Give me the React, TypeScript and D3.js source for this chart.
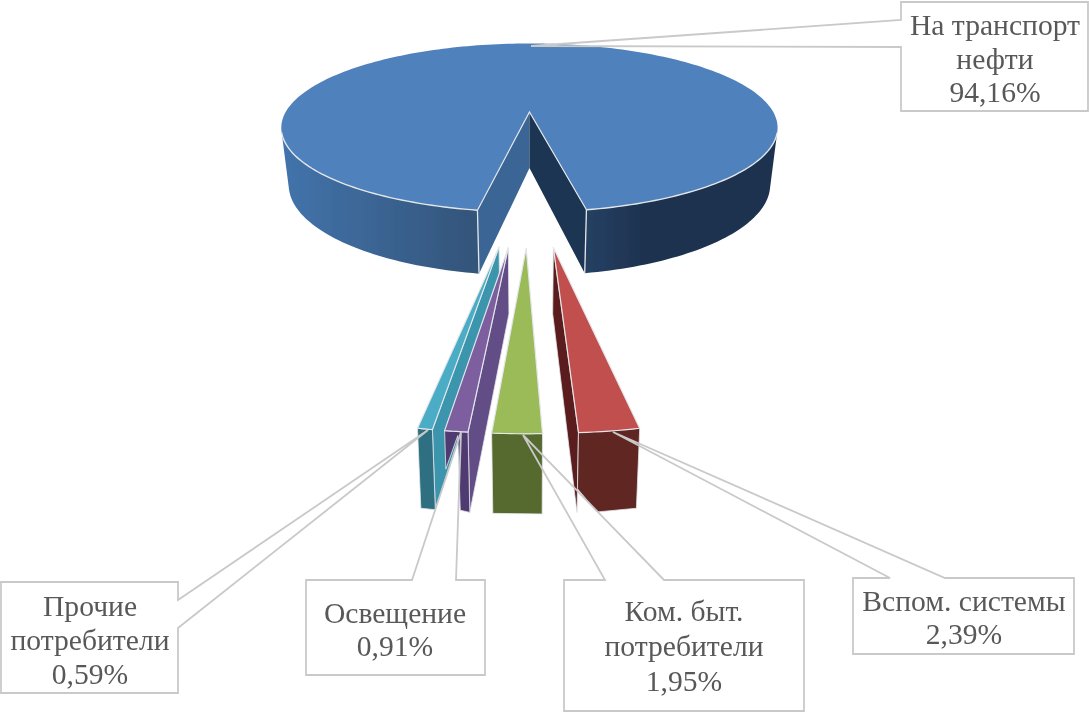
import React from "react";
import * as d3 from "d3";

// ---- data
const sliceNames = ["На транспорт нефти", "Вспом. системы", "Ком. быт. потребители", "Освещение", "Прочие потребители"];
const sliceValues = [94.16, 2.39, 1.95, 0.91, 0.59];
const sliceValueText = ["94,16%", "2,39%", "1,95%", "0,91%", "0,59%"];
const sliceLabelLines = [["На транспорт", "нефти"], ["Вспом. системы"], ["Ком. быт.", "потребители"], ["Освещение"], ["Прочие", "потребители"]];

// ---- styles
const topColors = ["#4f81bd", "#c0504d", "#9bbb59", "#7d5fa0", "#4bacc6"];
const frontColors = ["#1e3553", "#5e2523", "#56692e", "#4f3b72", "#2d6f82"];
const sideColors = ["#1d3452", "#5a1f1f", "#56692e", "#634e86", "#3a96ad"];
const edge = "#e4e7ea";

// ---- camera of the projected 3D pie
const W = 1089, H = 714;
const vanishX = 530, horizonY = -323, scaleY = 435, scaleX = 239;
const invDepth = 0.187, explode = 0.637;
const wallBase = 23, wallGrow = 33, bottomShrink = 0.97, mainWiden = 1.02;
const silhouetteAngle = 104;
const rad = (d: number) => (d * Math.PI) / 180;

function project(X: number, Y: number, low: boolean): [number, number] {
  const s = 1 / (1 - Y * invDepth);
  const x = vanishX + scaleX * s * X * (low ? bottomShrink : 1);
  const y = horizonY + scaleY * s + (low ? wallBase + wallGrow * s : 0);
  return [x, y];
}

// ---- callout layout: box, text centre, first baseline, line step, wedge tip, wedge ends
const boxes = [
  { x: 901, y: 2, w: 187, h: 109, cx: 995, base: 35, step: 33.5, tip: [531, 46], side: "left", a: 20, b: 47 },
  { x: 853, y: 578, w: 221, h: 76, cx: 964, base: 611, step: 33, tip: [613, 432], side: "top", a: 890, b: 945 },
  { x: 564, y: 580, w: 240, h: 131, cx: 684, base: 621, step: 35, tip: [523, 435], side: "top", a: 605, b: 664 },
  { x: 306, y: 580, w: 179, h: 95, cx: 395, base: 623, step: 33, tip: [461, 432], side: "top", a: 412, b: 456 },
  { x: 1, y: 582, w: 177, h: 111, cx: 90, base: 616, step: 34, tip: [428, 430], side: "right", a: 600, b: 628 },
];

// notches in the front walls, [along arc 0..1 from the left corner, down the wall 0..1]
const frontShapes: Record<number, [number, number][]> = {
  1: [[0, 0], [1, 0], [1, 1], [0.33, 1], [0, 0.7]],
  3: [[0, 0], [1, 0], [1, 1], [0.58, 0.98], [0.56, 0.05], [0, 0.48]],
};

const pieGen = d3.pie<number>().sort(null).startAngle(rad(-170)).endAngle(rad(190));
const arcs = pieGen(sliceValues);
const line = d3.line<[number, number]>();

function Slice({ i }: { i: number }) {
  const { startAngle: a0, endAngle: a1 } = arcs[i];
  const mid = (a0 + a1) / 2;
  const cx = explode * Math.sin(mid);
  const cy = explode - explode * Math.cos(mid);
  const rim = (a: number, low: boolean) => project(cx + Math.sin(a), cy - Math.cos(a), low);
  const apex = (low: boolean) => project(cx, cy, low);
  const steps = d3.range(0, 1.0001, 1 / 8).map((t) => a0 + t * (a1 - a0));
  const topPts: [number, number][] = [apex(false), ...steps.map((a) => rim(a, false))];
  // side wall seen from the centre line
  const sideA = cx > 0 ? a1 : a0;
  const side: [number, number][] = [apex(false), rim(sideA, false), rim(sideA, true), apex(true)];
  const shape: [number, number][] = frontShapes[i] ?? [[0, 0], [1, 0], [1, 1], [0, 1]];
  // t=0 is the left corner on screen: end angle of the slice
  const front = shape.map(([t, h]) => {
    const a = a1 + t * (a0 - a1);
    const p = rim(a, false), q = rim(a, true);
    return [p[0] + (q[0] - p[0]) * h, p[1] + (q[1] - p[1]) * h] as [number, number];
  });
  const showSide = i !== 2;
  return (
    <g>
      {showSide && <path d={line(side)! + "Z"} fill={sideColors[i]} stroke={edge} strokeWidth={0.8} />}
      <path d={line(front)! + "Z"} fill={frontColors[i]} stroke={edge} strokeWidth={0.8} />
      <path d={line(topPts)! + "Z"} fill={topColors[i]} stroke={edge} strokeWidth={1.2} strokeLinejoin="round" />
    </g>
  );
}

function MainSlice() {
  const { startAngle: a0, endAngle: a1 } = arcs[0];
  const mid = (a0 + a1) / 2;
  const cx = explode * Math.sin(mid) * 0.4;
  const cy = explode - explode * Math.cos(mid);
  const rim = (a: number, low: boolean) => project(cx + mainWiden * Math.sin(a), cy - Math.cos(a), low);
  const apex = (low: boolean) => project(cx, cy, low);
  const topSteps = d3.range(0, 1.0001, 1 / 240).map((t) => a0 + t * (a1 - a0));
  const topPts: [number, number][] = [apex(false), ...topSteps.map((a) => rim(a, false))];
  const sweep = (from: number, to: number) => d3.range(0, 1.0001, 1 / 50).map((t) => rad(from + t * (to - from)));
  const wall = (from: number, to: number) => {
    const angs = sweep(from, to);
    return [...angs.map((a) => rim(a, false)), ...angs.slice().reverse().map((a) => rim(a, true))] as [number, number][];
  };
  const d0 = (a0 * 180) / Math.PI, d1 = (a1 * 180) / Math.PI;
  const innerL: [number, number][] = [apex(false), rim(a0, false), rim(a0, true), apex(true)];
  const innerR: [number, number][] = [apex(false), rim(a1, false), rim(a1, true), apex(true)];
  const nearLeft = sweep(d0, -silhouetteAngle).map((a) => rim(a, false));
  const nearRight = sweep(d1, silhouetteAngle).map((a) => rim(a, false));
  return (
    <g>
      <defs>
        <linearGradient id="wallL" gradientUnits="userSpaceOnUse" x1={rim(rad(-90), false)[0]} x2={rim(a0, false)[0]} y1={0} y2={0}>
          <stop offset="0" stopColor="#4273aa" />
          <stop offset="1" stopColor="#335479" />
        </linearGradient>
        <linearGradient id="wallR" gradientUnits="userSpaceOnUse" x1={rim(a1, false)[0]} x2={rim(rad(90), false)[0]} y1={0} y2={0}>
          <stop offset="0" stopColor="#254063" />
          <stop offset="0.3" stopColor="#1e3350" />
          <stop offset="1" stopColor="#1e3350" />
        </linearGradient>
      </defs>
      <path d={line(wall(d0, -silhouetteAngle))! + "Z"} fill="url(#wallL)" />
      <path d={line(wall(d1, silhouetteAngle))! + "Z"} fill="url(#wallR)" />
      <path d={line(innerL)! + "Z"} fill="#3a6594" />
      <path d={line(innerR)! + "Z"} fill="#1d3452" />
      <path d={line([rim(a0, false), rim(a0, true)])!} stroke={edge} strokeWidth={1.3} />
      <path d={line([rim(a1, false), rim(a1, true)])!} stroke={edge} strokeWidth={1.3} />
      <path d={line(topPts)! + "Z"} fill={topColors[0]} />
      <path d={line(nearLeft)!} fill="none" stroke={edge} strokeWidth={1.4} />
      <path d={line(nearRight)!} fill="none" stroke={edge} strokeWidth={1.4} />
      <path d={line([rim(a0, false), apex(false), rim(a1, false)])!} fill="none" stroke={edge} strokeWidth={1.2} />
    </g>
  );
}

function Callout({ i }: { i: number }) {
  const b = boxes[i];
  const x2 = b.x + b.w, y2 = b.y + b.h;
  const tip = b.tip;
  let d = "";
  if (b.side === "left") d = `M${b.x},${b.y}H${x2}V${y2}H${b.x}V${b.b}L${tip[0]},${tip[1]}L${b.x},${b.a}Z`;
  if (b.side === "top") d = `M${b.x},${b.y}H${b.a}L${tip[0]},${tip[1]}L${b.b},${b.y}H${x2}V${y2}H${b.x}Z`;
  if (b.side === "right") d = `M${b.x},${b.y}H${x2}V${b.a}L${tip[0]},${tip[1]}L${x2},${b.b}V${y2}H${b.x}Z`;
  const lines = [...sliceLabelLines[i], sliceValueText[i]];
  return (
    <g>
      <rect x={b.x} y={b.y} width={b.w} height={b.h} fill="#fff" />
      <path d={d} fill="none" stroke="#c9c9c9" strokeWidth={1.8} strokeLinejoin="miter" />
      <text textAnchor="middle" fontFamily="'Liberation Serif', serif" fontSize={29.6} fill="#595959" aria-label={sliceNames[i]}>
        {lines.map((l, k) => (
          <tspan key={k} x={b.cx} y={b.base + k * b.step}>{l}</tspan>
        ))}
      </text>
    </g>
  );
}

export default function App() {
  return (
    <svg width={W} height={H} viewBox={`0 0 ${W} ${H}`} style={{ position: "absolute", left: 0, top: 0, background: "#fff" }}>
      <defs>
        <filter id="soft" x="-5%" y="-5%" width="110%" height="110%">
          <feGaussianBlur stdDeviation={0.5} />
        </filter>
      </defs>
      <g filter="url(#soft)">
        <MainSlice />
        {[4, 3, 2, 1].map((i) => <Slice key={i} i={i} />)}
        {[0, 1, 2, 3, 4].map((i) => <Callout key={i} i={i} />)}
      </g>
    </svg>
  );
}
